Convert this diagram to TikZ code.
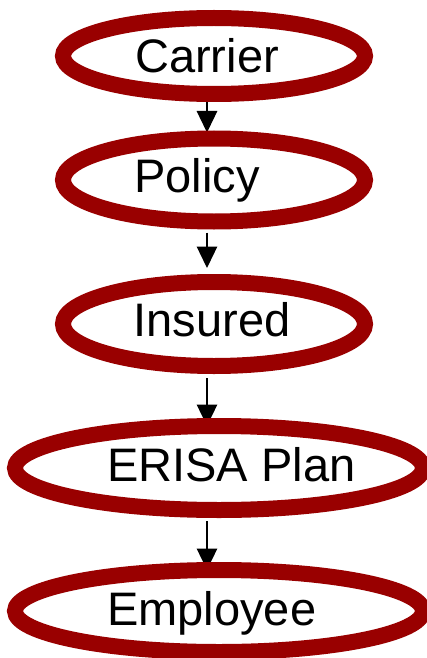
\documentclass[tikz,border=0pt]{standalone}
\usepackage{fontspec}
\setmainfont{Liberation Sans}
\usetikzlibrary{shapes.geometric,arrows.meta,backgrounds}
\definecolor{ovalred}{RGB}{153,0,0}
\tikzset{
  oval/.style={ellipse, draw=ovalred, line width=16pt, fill=white, inner sep=0pt},
  lbl/.style={anchor=base west, inner sep=0pt, font=\fontsize{47}{47}\selectfont},
  arr/.style={line width=1.3pt, -{Triangle[width=20.5pt,length=21.5pt]}}
}
\begin{document}
\begin{tikzpicture}[x=1pt,y=-1pt]
\useasboundingbox (0,0) rectangle (427,658);
\node[oval, minimum width=302pt, minimum height=76pt] (e1) at (214,56) {};
\node[oval, minimum width=302pt, minimum height=83pt] (e2) at (214,180) {};
\node[oval, minimum width=302pt, minimum height=84pt] (e3) at (214,324) {};
\node[oval, minimum width=408pt, minimum height=84pt] (e4) at (219,468) {};
\node[oval, minimum width=408pt, minimum height=82pt] (e5) at (219,611) {};
\node[lbl] (t1) at (135,72.7) {Carrier};
\node[lbl] (t2) at (134,192.7) {Policy};
\node[lbl] (t3) at (133.5,336.7) {Insured};
\node[lbl] (t4) at (107,481.7) {ERISA Plan};
\node[lbl] (t5) at (107,625) {Employee};
\begin{scope}[on background layer]
\draw[arr] ([xshift=-7pt]e1.south) -- ([xshift=-7pt,yshift=-2pt]e2.north);
\draw[arr] ([xshift=-7pt,yshift=-3pt]e2.south) -- ([xshift=-7pt,yshift=6pt]e3.north);
\draw[arr] ([xshift=-7pt,yshift=-4pt]e3.south) -- ([xshift=-12pt,yshift=-8pt]e4.north);
\draw[arr] ([xshift=-12pt,yshift=-3pt]e4.south) -- ([xshift=-12pt,yshift=-8pt]e5.north);
\end{scope}
\end{tikzpicture}
\end{document}
